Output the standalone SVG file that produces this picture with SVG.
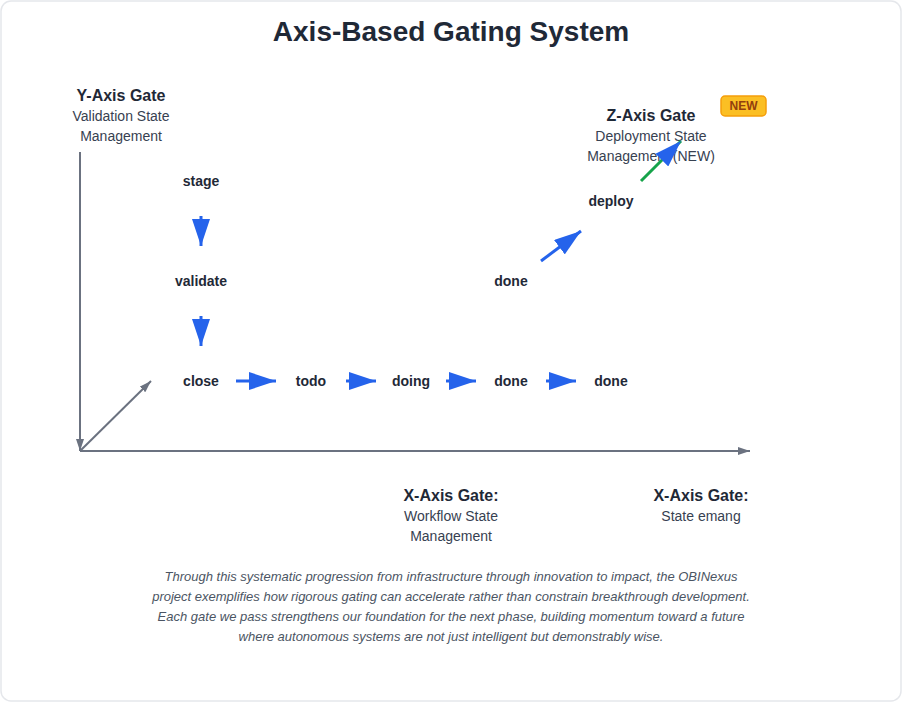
<svg xmlns="http://www.w3.org/2000/svg" width="902" height="702" viewBox="0 0 902 702">
<style>
text{font-family:"Liberation Sans",Arial,sans-serif;fill:#1f2937;text-anchor:middle}
.title{font-size:28px;font-weight:bold}
.gate{font-size:16px;font-weight:bold}
.sub{font-size:14px;fill:#374151}
.node{font-size:14px;font-weight:bold}
.para{font-size:13px;font-style:italic;fill:#4b5563}
.axis{stroke:#6b7280;stroke-width:2;fill:none}
.flow{stroke:#2563eb;stroke-width:3;fill:none}
.zflow{stroke:#16a34a;stroke-width:3;fill:none}
</style>
<defs>
<marker id="blueArrow" markerUnits="userSpaceOnUse" markerWidth="27" markerHeight="18" refX="27" refY="9" orient="auto">
<path d="M0,0 L27,9 L0,18 z" fill="#2563eb"/>
</marker>
<marker id="grayArrow" markerUnits="userSpaceOnUse" markerWidth="12" markerHeight="8" refX="12" refY="4" orient="auto">
<path d="M0,0 L12,4 L0,8 z" fill="#6b7280"/>
</marker>
</defs>
<rect x="1" y="1" width="900" height="700" rx="10" fill="#ffffff" stroke="#e5e7eb" stroke-width="1.5"/>
<text class="title" x="451" y="41">Axis-Based Gating System</text>

<g id="axes">
<line class="axis" x1="80" y1="152" x2="80" y2="451" marker-end="url(#grayArrow)"/>
<line class="axis" x1="80" y1="451" x2="750" y2="451" marker-end="url(#grayArrow)"/>
<line class="axis" x1="80" y1="451" x2="151" y2="381" marker-end="url(#grayArrow)"/>
</g>

<g id="y-axis-label">
<text class="gate" x="121" y="101">Y-Axis Gate</text>
<text class="sub" x="121" y="121">Validation State</text>
<text class="sub" x="121" y="141">Management</text>
</g>

<g id="z-axis-label">
<text class="gate" x="651" y="121">Z-Axis Gate</text>
<text class="sub" x="651" y="141">Deployment State</text>
<text class="sub" x="651" y="161">Management (NEW)</text>
</g>

<g id="new-badge">
<rect x="721" y="96" width="45" height="20" rx="4" fill="#fbbf24" stroke="#f59e0b" stroke-width="1.5"/>
<text x="743.5" y="110" style="font-size:12px;font-weight:bold;fill:#92400e">NEW</text>
</g>

<g id="x-axis-label-1">
<text class="gate" x="451" y="501">X-Axis Gate:</text>
<text class="sub" x="451" y="521">Workflow State</text>
<text class="sub" x="451" y="541">Management</text>
</g>

<g id="x-axis-label-2">
<text class="gate" x="701" y="501">X-Axis Gate:</text>
<text class="sub" x="701" y="521">State emang</text>
</g>

<g id="node-stage"><text class="node" x="201" y="186">stage</text></g>
<g id="node-validate"><text class="node" x="201" y="286">validate</text></g>
<g id="node-close"><text class="node" x="201" y="386">close</text></g>
<g id="node-todo"><text class="node" x="311" y="386">todo</text></g>
<g id="node-doing"><text class="node" x="411" y="386">doing</text></g>
<g id="node-done-1"><text class="node" x="511" y="386">done</text></g>
<g id="node-done-2"><text class="node" x="611" y="386">done</text></g>
<g id="node-done-3"><text class="node" x="511" y="286">done</text></g>
<g id="node-deploy"><text class="node" x="611" y="206">deploy</text></g>

<g id="connectors">
<line class="flow" x1="201" y1="216" x2="201" y2="246" marker-end="url(#blueArrow)"/>
<line class="flow" x1="201" y1="316" x2="201" y2="346" marker-end="url(#blueArrow)"/>
<line class="flow" x1="236" y1="381" x2="276" y2="381" marker-end="url(#blueArrow)"/>
<line class="flow" x1="346" y1="381" x2="376" y2="381" marker-end="url(#blueArrow)"/>
<line class="flow" x1="446" y1="381" x2="476" y2="381" marker-end="url(#blueArrow)"/>
<line class="flow" x1="546" y1="381" x2="576" y2="381" marker-end="url(#blueArrow)"/>
<line class="flow" x1="541" y1="261" x2="581" y2="231" marker-end="url(#blueArrow)"/>
<line class="zflow" x1="641" y1="181" x2="681" y2="141" marker-end="url(#blueArrow)"/>
</g>

<g id="summary">
<text class="para" x="451" y="581">Through this systematic progression from infrastructure through innovation to impact, the OBINexus</text>
<text class="para" x="451" y="601">project exemplifies how rigorous gating can accelerate rather than constrain breakthrough development.</text>
<text class="para" x="451" y="621">Each gate we pass strengthens our foundation for the next phase, building momentum toward a future</text>
<text class="para" x="451" y="641">where autonomous systems are not just intelligent but demonstrably wise.</text>
</g>
</svg>
